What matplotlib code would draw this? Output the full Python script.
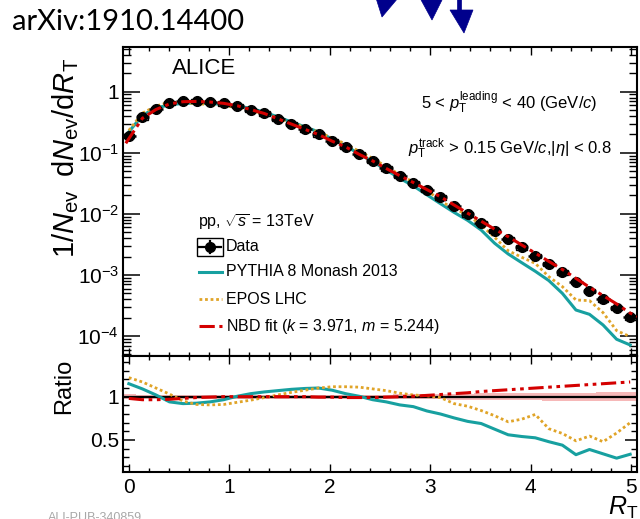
import matplotlib
matplotlib.use("Agg")
import matplotlib.pyplot as plt
from matplotlib.lines import Line2D
from matplotlib.patches import Polygon, Rectangle
from matplotlib.ticker import FixedLocator, FuncFormatter, LogLocator, NullFormatter, MultipleLocator
import numpy as np

plt.rcParams['font.family'] = ['Liberation Sans', 'DejaVu Sans']
plt.rcParams['mathtext.fontset'] = 'custom'
plt.rcParams['mathtext.rm'] = 'Liberation Sans'
plt.rcParams['mathtext.it'] = 'Liberation Sans:italic'
plt.rcParams['mathtext.bf'] = 'Liberation Sans:bold'

# ---------------- data ----------------
rt = [0.000, 0.135, 0.270, 0.405, 0.540, 0.674, 0.809, 0.944, 1.079, 1.214,
      1.349, 1.484, 1.619, 1.754, 1.889, 2.024, 2.158, 2.293, 2.428, 2.563,
      2.698, 2.833, 2.968, 3.103, 3.238, 3.373, 3.508, 3.642, 3.777, 3.912,
      4.047, 4.182, 4.317, 4.452, 4.587, 4.722, 4.857, 4.992]

data = [0.19, 0.38, 0.53, 0.65, 0.70, 0.70, 0.68, 0.645, 0.59, 0.51,
        0.44, 0.36, 0.295, 0.242, 0.20, 0.156, 0.126, 0.0955, 0.0742, 0.0557,
        0.0422, 0.0324, 0.0246, 0.0186, 0.0135, 0.00985, 0.00718, 0.00525, 0.00393, 0.00284,
        0.00207, 0.0015, 0.0011, 0.00078, 0.000553, 0.0004, 0.00029, 0.000203]

pythia = [0.22, 0.41, 0.54, 0.61, 0.645, 0.65, 0.64, 0.62, 0.59, 0.53,
          0.465, 0.385, 0.32, 0.265, 0.22, 0.168, 0.130, 0.096, 0.0716, 0.0524,
          0.0382, 0.0287, 0.0205, 0.0147, 0.0106, 0.00785, 0.00545, 0.00331, 0.00221, 0.00159,
          0.00115, 0.00081, 0.0005, 0.000267, 0.000227, 0.000152, 0.0000887, 0.0000715]

epos = [0.232, 0.445, 0.583, 0.67, 0.665, 0.637, 0.615, 0.587, 0.552, 0.49,
        0.436, 0.367, 0.31, 0.26, 0.22, 0.174, 0.14, 0.106, 0.081, 0.0596,
        0.0439, 0.033, 0.0248, 0.0161, 0.01235, 0.0096, 0.00658, 0.00414, 0.0025, 0.00195,
        0.00155, 0.000938, 0.000645, 0.00039, 0.00038, 0.000242, 0.000123, 0.0000977]

nbd_rt = [-0.03, 0.000, 0.135, 0.270, 0.405, 0.540, 0.674, 0.809, 0.944, 1.079, 1.214,
          1.349, 1.484, 1.619, 1.754, 1.889, 2.024, 2.158, 2.293, 2.428, 2.563,
          2.698, 2.833, 2.968, 3.103, 3.238, 3.373, 3.508, 3.642, 3.777, 3.912,
          4.047, 4.182, 4.317, 4.452, 4.587, 4.722, 4.857, 4.992, 5.06]
nbd = [0.143, 0.17, 0.367, 0.511, 0.63, 0.686, 0.693, 0.677, 0.645, 0.59, 0.51,
       0.44, 0.36, 0.295, 0.242, 0.199, 0.155, 0.125, 0.0945, 0.0735, 0.0554,
       0.0422, 0.0326, 0.025, 0.0191, 0.014, 0.0103, 0.0076, 0.00562, 0.00424, 0.0031,
       0.00228, 0.00167, 0.00123, 0.00088, 0.00063, 0.00046, 0.000336, 0.000238, 0.00021]

ratio_pythia = [1.15, 1.09, 1.02, 0.94, 0.92, 0.925, 0.94, 0.965, 1.005, 1.035,
                1.055, 1.07, 1.085, 1.095, 1.10, 1.075, 1.035, 1.005, 0.965, 0.94,
                0.905, 0.885, 0.835, 0.80, 0.755, 0.715, 0.69, 0.625, 0.56, 0.54,
                0.525, 0.48, 0.44, 0.33, 0.39, 0.34, 0.29, 0.335]

ratio_epos = [1.22, 1.17, 1.10, 1.03, 0.95, 0.91, 0.905, 0.91, 0.935, 0.96,
              0.99, 1.02, 1.05, 1.075, 1.10, 1.115, 1.115, 1.11, 1.09, 1.07,
              1.04, 1.02, 1.01, 0.99, 0.92, 0.89, 0.84, 0.78, 0.71, 0.74,
              0.795, 0.63, 0.575, 0.49, 0.545, 0.48, 0.58, 0.70]

ratio_nbd = [0.98, 0.965, 0.965, 0.97, 0.98, 0.99, 0.995, 1.0, 1.0, 1.0,
             1.0, 1.0, 1.0, 1.0, 0.995, 0.995, 0.99, 0.99, 0.99, 0.995,
             1.0, 1.005, 1.015, 1.025, 1.035, 1.045, 1.06, 1.07, 1.08, 1.09,
             1.10, 1.11, 1.12, 1.13, 1.14, 1.15, 1.16, 1.17]

rel_unc = [0.03, 0.025, 0.022, 0.022, 0.022, 0.022, 0.022, 0.022, 0.022, 0.022,
           0.022, 0.022, 0.022, 0.022, 0.022, 0.022, 0.022, 0.022, 0.022, 0.024,
           0.026, 0.028, 0.03, 0.032, 0.034, 0.036, 0.038, 0.04, 0.042, 0.043,
           0.044, 0.045, 0.046, 0.047, 0.048, 0.049, 0.05, 0.052]

sys_unc = 0.08
bin_w = 0.1349

# ---------------- style ----------------
TEAL = '#17a0a0'
ORANGE = '#e0a428'
RED = '#d40000'
W, H = 640, 519

fig = plt.figure(figsize=(6.4, 5.19), dpi=100)

def fx(px):
    return px / W

def fy(py):
    return 1 - py / H

ax_l, ax_r = 123.3, 637.0
main_top, main_bot = 47.3, 356.0
rat_bot = 472.0
ax1 = fig.add_axes([fx(ax_l), fy(main_bot), fx(ax_r - ax_l), (main_bot - main_top) / H])
ax2 = fig.add_axes([fx(ax_l), fy(rat_bot), fx(ax_r - ax_l), (rat_bot - main_bot) / H])

xlim = (-0.055, 5.06)
data_a = np.array(data)

# ---- main panel ----
ax1.set_yscale('log')
ax1.set_xlim(*xlim)
ax1.set_ylim(4.72e-5, 5.33)

dash_nbd = (0, (5, 1.5, 1.2, 1.5, 1.2, 1.5))
ax1.plot(rt, pythia, color=TEAL, lw=2.2, zorder=3)
ax1.plot(rt, epos, color=ORANGE, lw=2.0, ls=(0, (1, 1)), zorder=3)
ax1.plot(nbd_rt, nbd, color=RED, lw=2.2, ls=dash_nbd, zorder=5)
ax1.bar(rt, data_a * 2 * sys_unc, bottom=data_a * (1 - sys_unc), width=bin_w * 0.8,
        facecolor='none', edgecolor='black', lw=1.0, zorder=4)
ax1.errorbar(rt, data, xerr=bin_w / 2, fmt='o', color='black', ms=7, lw=1.8,
             capsize=0, zorder=4)

def logfmt(v, pos):
    if abs(v - 1) < 1e-9:
        return '1'
    e = int(round(np.log10(v)))
    return r'$10^{%d}$' % e

ax1.yaxis.set_major_locator(FixedLocator([1e-4, 1e-3, 1e-2, 1e-1, 1]))
ax1.yaxis.set_major_formatter(FuncFormatter(logfmt))
ax1.yaxis.set_minor_locator(LogLocator(base=10, subs=np.arange(2, 10), numticks=20))
ax1.yaxis.set_minor_formatter(NullFormatter())
ax1.xaxis.set_major_locator(MultipleLocator(1))
ax1.xaxis.set_minor_locator(MultipleLocator(0.2))
ax1.tick_params(axis='x', which='both', direction='in', top=True, bottom=True, labelbottom=False)
ax1.tick_params(axis='x', which='major', length=5.5, width=1.0)
ax1.tick_params(axis='x', which='minor', length=3, width=1.0)
ax1.tick_params(axis='y', which='both', direction='in', left=True, right=True)
ax1.tick_params(axis='y', which='major', length=12, width=1.1, labelsize=15, pad=3)
ax1.tick_params(axis='y', which='minor', length=6, width=1.0)

# ---- ratio panel ----
ax2.set_xlim(*xlim)
ax2.set_ylim(0.13, 1.47)
unc = np.array(rel_unc)
ax2.bar(rt, 2 * unc, bottom=1 - unc, width=bin_w, color='#f6b8b8', edgecolor='none', zorder=1)
ax2.axhline(1, color='black', lw=1.6, zorder=2)
ax2.plot(rt, ratio_pythia, color=TEAL, lw=2.2, zorder=3)
ax2.plot(rt, ratio_epos, color=ORANGE, lw=2.0, ls=(0, (1, 1)), zorder=3)
ax2.plot(rt, ratio_nbd, color=RED, lw=2.2, ls=dash_nbd, zorder=4)

ax2.xaxis.set_major_locator(MultipleLocator(1))
ax2.xaxis.set_minor_locator(MultipleLocator(0.2))
ax2.yaxis.set_major_locator(FixedLocator([0.5, 1.0]))
ax2.yaxis.set_minor_locator(MultipleLocator(0.1))
ax2.yaxis.set_major_formatter(FuncFormatter(lambda v, p: '%g' % v))
ax2.tick_params(axis='both', which='both', direction='in', top=True, right=True)
ax2.tick_params(axis='x', which='major', length=5.5, width=1.0, labelsize=15, pad=4)
ax2.tick_params(axis='x', which='minor', length=3, width=1.0)
ax2.tick_params(axis='y', which='major', length=8.5, width=1.1, labelsize=15, pad=3)
ax2.tick_params(axis='y', which='minor', length=4.3, width=1.0)

for ax in (ax1, ax2):
    for s in ax.spines.values():
        s.set_linewidth(1.5)

# ---- labels ----
fig.text(fx(66), fy(58), r'$1/N_{\mathrm{ev}}\;\;\mathrm{d}N_{\mathrm{ev}}/\mathrm{d}R_{\mathrm{T}}$',
         rotation=90, ha='center', va='top', fontsize=21)
fig.text(fx(64), fy(386), 'Ratio', rotation=90, ha='center', va='center', fontsize=17)
fig.text(fx(638), fy(508), r'$R_{\mathrm{T}}$', ha='right', va='center', fontsize=18)

def axx(px):
    return (px - ax_l) / (ax_r - ax_l)

def axy(py):
    return (main_bot - py) / (main_bot - main_top)

ax1.text(axx(172), axy(69), 'ALICE', transform=ax1.transAxes, ha='left', va='center', fontsize=16)
ax1.text(axx(421), axy(103), r'5 < $p_{\mathrm{T}}^{\mathrm{leading}}$ < 40 (GeV/$c$)',
         transform=ax1.transAxes, ha='left', va='center', fontsize=12)
ax1.text(axx(612), axy(149), r'$p_{\mathrm{T}}^{\mathrm{track}}$ > 0.15 GeV/$c$,|$\eta$| < 0.8',
         transform=ax1.transAxes, ha='right', va='center', fontsize=12)

# ---- legend (manual) ----
LEG_FS = 11.5
ax1.text(axx(198), axy(221.7), r'pp, $\sqrt{s}$ = 13TeV', transform=ax1.transAxes,
         ha='left', va='center', fontsize=LEG_FS)
rows = [(246.7, 'Data'), (271.7, 'PYTHIA 8 Monash 2013'), (299.3, 'EPOS LHC'),
        (326.0, r'NBD fit ($k$ = 3.971, $m$ = 5.244)')]
for yy, lab in rows:
    ax1.text(axx(226), axy(yy), lab, transform=ax1.transAxes, ha='left', va='center', fontsize=LEG_FS)

ax1.add_patch(Rectangle((axx(196.5), axy(256)), axx(223) - axx(196.5), axy(237.5) - axy(256),
                        transform=ax1.transAxes, fill=False, edgecolor='black', lw=1.0))
ax1.add_line(Line2D([axx(199), axx(221)], [axy(246.7)] * 2, transform=ax1.transAxes, color='black', lw=1.6))
ax1.add_line(Line2D([axx(210)] * 2, [axy(241), axy(252.5)], transform=ax1.transAxes, color='black', lw=1.6))
ax1.add_line(Line2D([axx(210)], [axy(246.7)], transform=ax1.transAxes, color='black', marker='o', ms=7))
ax1.add_line(Line2D([axx(199), axx(222)], [axy(271.7)] * 2, transform=ax1.transAxes, color=TEAL, lw=2.2))
ax1.add_line(Line2D([axx(199), axx(222)], [axy(299.3)] * 2, transform=ax1.transAxes, color=ORANGE, lw=2.0, ls=(0, (1, 1))))
ax1.add_line(Line2D([axx(199), axx(222)], [axy(326.0)] * 2, transform=ax1.transAxes, color=RED, lw=2.2, ls=dash_nbd))

# ---- slide decorations ----
fig.text(fx(12), fy(22.5), 'arXiv:1910.14400', ha='left', va='center', fontsize=21,
         family=['Lato', 'DejaVu Sans'])
fig.text(fx(48), fy(512), 'ALI-PUB-340859', ha='left', va='top', fontsize=9, color='#a8a8a8')
NAVY = '#00008c'
for pts in ([(376, -2), (398, -2), (382, 17)],
            [(420, -2), (443, -2), (432, 20)],
            [(450, 10), (473, 10), (464, 33)],
            [(456.5, -2), (460.5, -2), (460.5, 11), (456.5, 11)]):
    fig.add_artist(Polygon([(fx(a), fy(b)) for a, b in pts], closed=True,
                           transform=fig.transFigure, facecolor=NAVY, edgecolor=NAVY, lw=0.5))

fig.savefig('out.png', dpi=100)
